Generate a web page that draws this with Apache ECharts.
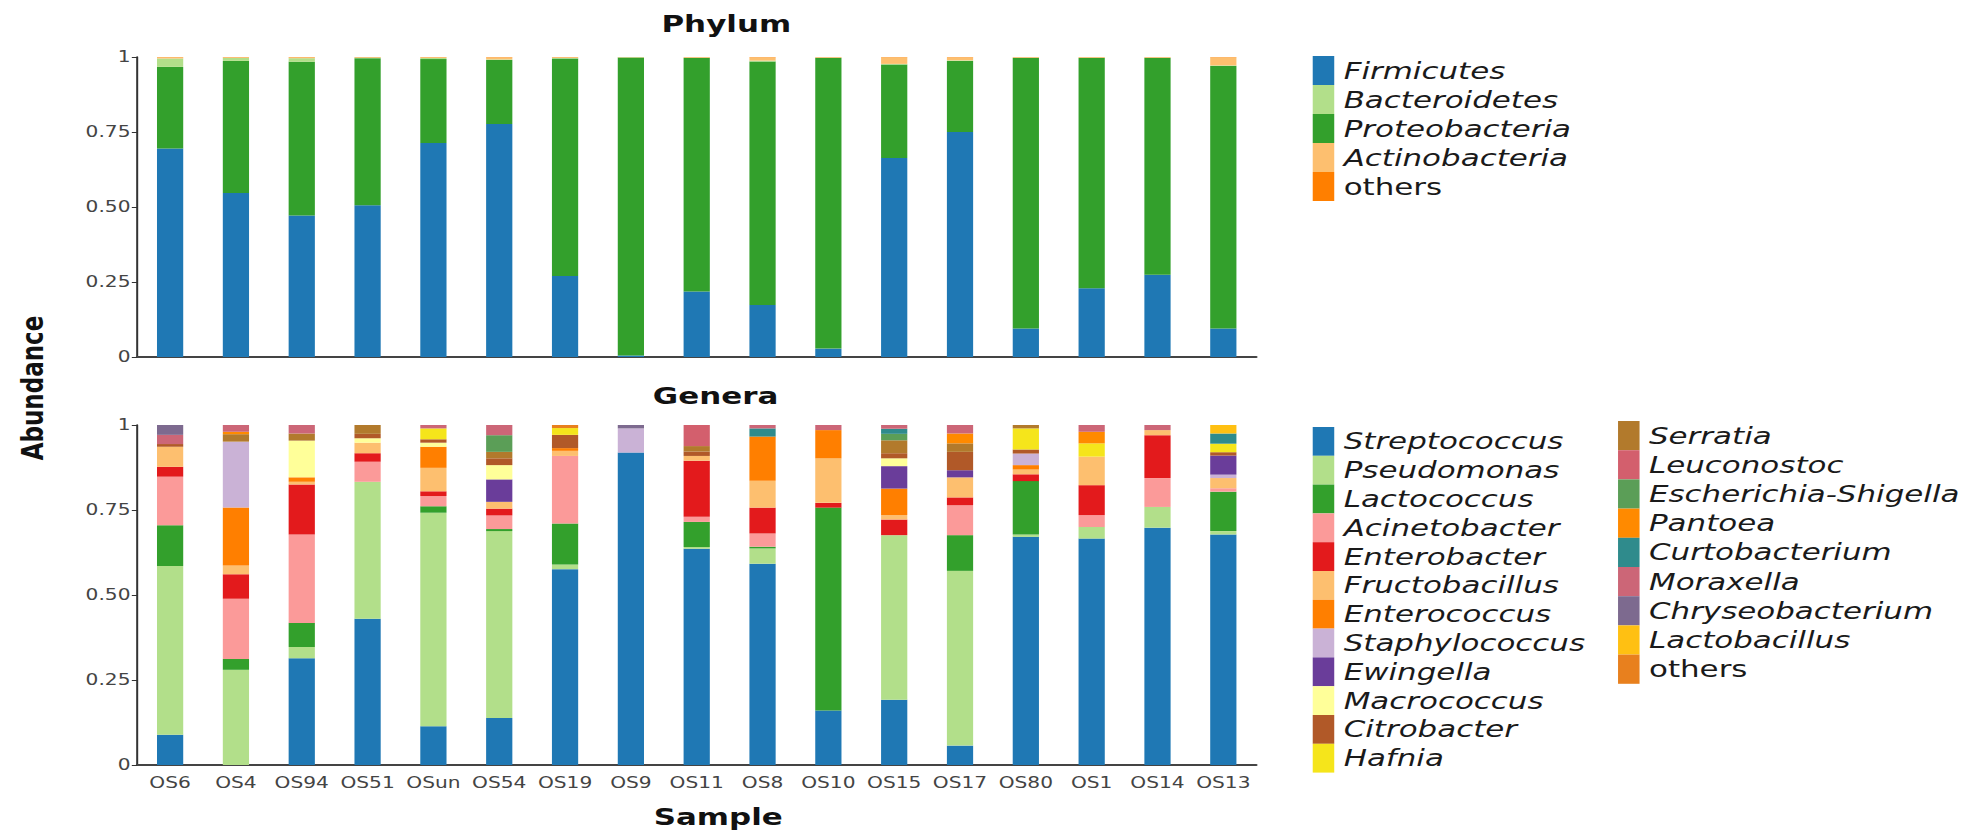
<!DOCTYPE html>
<html>
<head>
<meta charset="utf-8">
<script src="https://cdn.jsdelivr.net/npm/echarts@6/dist/echarts.min.js"></script>
<style>
html,body{margin:0;padding:0;background:#fff;overflow:hidden;}
#wrap{width:1988px;height:833px;overflow:hidden;position:relative;}
/* the reference figure is horizontally stretched; reproduce with a uniform x-scale of the whole chart */
#c{width:1478px;height:833px;transform:scaleX(1.345);transform-origin:0 0;}
</style>
</head>
<body>
<div id="wrap"><div id="c"></div></div>
<script>
// ---------- data ----------
var samples = ['OS6','OS4','OS94','OS51','OSun','OS54','OS19','OS9','OS11','OS8','OS10','OS15','OS17','OS80','OS1','OS14','OS13'];
var yTicks = ['0','0.25','0.50','0.75','1'];

// Phylum (stack order bottom->top: Firmicutes, Proteobacteria, Bacteroidetes, Actinobacteria, others)
var Firmicutes     = [0.695,0.547,0.472,0.506,0.713,0.777,0.270,0.005,0.218,0.173,0.028,0.663,0.750,0.095,0.229,0.274,0.095];
var Proteobacteria = [0.272,0.440,0.512,0.490,0.280,0.213,0.725,0.993,0.779,0.812,0.969,0.312,0.237,0.902,0.768,0.723,0.875];
var Bacteroidetes  = [0.028,0.010,0.012,0.002,0.004,0.002,0.002,0.001,0.001,0.003,0.001,0.002,0.002,0.001,0.001,0.001,0.002];
var Actinobacteria = [0.004,0.002,0.003,0.001,0.002,0.007,0.002,0.001,0.001,0.011,0.001,0.022,0.010,0.001,0.001,0.001,0.027];
var phylumOthers   = [0.001,0.001,0.001,0.001,0.001,0.001,0.001,0.000,0.001,0.001,0.001,0.001,0.001,0.001,0.001,0.001,0.001];

// Genera (stack order = legend order)
var Streptococcus   = [0.089,0,0.314,0.43,0.114,0.138,0.576,0.919,0.636,0.592,0.16,0.192,0.057,0.671,0.666,0.698,0.678];
var Pseudomonas     = [0.496,0.28,0.033,0.403,0.628,0.55,0.014,0,0.005,0.045,0,0.484,0.514,0.007,0.034,0.061,0.01];
var Lactococcus     = [0.12,0.032,0.071,0,0.019,0.006,0.12,0,0.074,0.005,0.597,0,0.105,0.157,0,0,0.116];
var Acinetobacter   = [0.143,0.177,0.26,0.059,0.03,0.04,0.199,0,0.015,0.039,0,0,0.088,0,0.035,0.085,0.01];
var Enterobacter    = [0.029,0.072,0.147,0.025,0.014,0.02,0,0,0.165,0.076,0.014,0.046,0.023,0.02,0.088,0.126,0];
var Fructobacillus  = [0.059,0.026,0.008,0.031,0.069,0.02,0.015,0,0.014,0.079,0.131,0.013,0.059,0.014,0.084,0.015,0.03];
var Enterococcus    = [0,0.17,0.013,0,0.062,0,0.008,0,0,0.13,0.083,0.078,0,0.013,0,0,0];
var Staphylococcus  = [0,0.194,0,0,0,0,0,0.071,0,0,0,0,0,0.034,0,0,0.01];
var Ewingella       = [0,0,0,0,0,0.066,0,0,0,0,0,0.066,0.021,0,0,0,0.056];
var Macrococcus     = [0,0,0.108,0.013,0.012,0.042,0,0,0,0,0,0.023,0,0,0,0,0];
var Citrobacter     = [0.008,0,0,0.013,0.01,0.02,0.039,0,0.013,0,0,0.015,0.054,0.012,0,0,0.01];
var Hafnia          = [0,0,0,0,0.032,0,0.02,0,0,0,0,0,0,0.062,0.039,0,0.025];
var Serratia        = [0,0.022,0.021,0.026,0,0.019,0,0,0.016,0,0,0.038,0.025,0.01,0,0,0];
var Leuconostoc     = [0,0,0,0,0,0,0,0,0.062,0,0,0,0,0,0,0,0];
var EscherichiaShigella = [0,0,0,0,0,0.049,0,0,0,0,0,0.019,0,0,0,0,0];
var Pantoea         = [0,0.007,0,0,0,0,0,0,0,0,0,0,0.029,0,0.034,0,0];
var Curtobacterium  = [0,0,0,0,0,0,0,0,0,0.024,0,0.015,0,0,0,0,0.03];
var Moraxella       = [0.027,0.02,0.025,0,0.01,0.03,0,0,0,0.01,0.015,0.011,0.025,0,0.02,0.015,0];
var Chryseobacterium= [0.029,0,0,0,0,0,0,0.01,0,0,0,0,0,0,0,0,0];
var Lactobacillus   = [0,0,0,0,0,0,0,0,0,0,0,0,0,0,0,0,0.025];
var genusOthers     = [0,0,0,0,0,0,0.009,0,0,0,0,0,0,0,0,0,0];

var phylumLegend = ['Firmicutes','Bacteroidetes','Proteobacteria','Actinobacteria','others'];
var generaCol1 = ['Streptococcus','Pseudomonas','Lactococcus','Acinetobacter','Enterobacter','Fructobacillus','Enterococcus','Staphylococcus','Ewingella','Macrococcus','Citrobacter','Hafnia'];
var generaCol2 = ['Serratia','Leuconostoc','Escherichia-Shigella','Pantoea','Curtobacterium','Moraxella','Chryseobacterium','Lactobacillus','others'];

// ---------- styling ----------
var phylumSeries = [
  {name:'Firmicutes', data:Firmicutes, color:'#1f78b4'},
  {name:'Proteobacteria', data:Proteobacteria, color:'#33a02c'},
  {name:'Bacteroidetes', data:Bacteroidetes, color:'#b2df8a'},
  {name:'Actinobacteria', data:Actinobacteria, color:'#fdbf6f'},
  {name:'others_p', data:phylumOthers, color:'#ff7f00'}
];
var genusSeries = [
  {name:'Streptococcus', data:Streptococcus, color:'#1f78b4'},
  {name:'Pseudomonas', data:Pseudomonas, color:'#b2df8a'},
  {name:'Lactococcus', data:Lactococcus, color:'#33a02c'},
  {name:'Acinetobacter', data:Acinetobacter, color:'#fb9a99'},
  {name:'Enterobacter', data:Enterobacter, color:'#e31a1c'},
  {name:'Fructobacillus', data:Fructobacillus, color:'#fdbf6f'},
  {name:'Enterococcus', data:Enterococcus, color:'#ff7f00'},
  {name:'Staphylococcus', data:Staphylococcus, color:'#cab2d6'},
  {name:'Ewingella', data:Ewingella, color:'#6a3d9a'},
  {name:'Macrococcus', data:Macrococcus, color:'#ffff99'},
  {name:'Citrobacter', data:Citrobacter, color:'#b15928'},
  {name:'Hafnia', data:Hafnia, color:'#f5e51b'},
  {name:'Serratia', data:Serratia, color:'#b27a2c'},
  {name:'Leuconostoc', data:Leuconostoc, color:'#d35f6d'},
  {name:'Escherichia-Shigella', data:EscherichiaShigella, color:'#5b9e57'},
  {name:'Pantoea', data:Pantoea, color:'#ff8a00'},
  {name:'Curtobacterium', data:Curtobacterium, color:'#2f8b8c'},
  {name:'Moraxella', data:Moraxella, color:'#cc6677'},
  {name:'Chryseobacterium', data:Chryseobacterium, color:'#7d6a8f'},
  {name:'Lactobacillus', data:Lactobacillus, color:'#ffc012'},
  {name:'others_g', data:genusOthers, color:'#e8801e'}
];

var FONT = '"DejaVu Sans", Verdana, sans-serif';
var series = [];
phylumSeries.forEach(function(s){
  series.push({type:'bar', name:s.name, data:s.data, stack:'p', xAxisIndex:0, yAxisIndex:0,
    barWidth:19.5, itemStyle:{color:s.color}, emphasis:{disabled:true}});
});
genusSeries.forEach(function(s){
  series.push({type:'bar', name:s.name, data:s.data, stack:'g', xAxisIndex:1, yAxisIndex:1,
    barWidth:19.5, itemStyle:{color:s.color}, emphasis:{disabled:true}});
});

function yAxisCfg(gi){
  return {type:'value', gridIndex:gi, min:0, max:1, interval:0.25,
    axisLine:{show:true, lineStyle:{color:'#333', width:1.5}},
    axisTick:{show:true, length:4, lineStyle:{color:'#333'}},
    splitLine:{show:false},
    axisLabel:{fontFamily:FONT, fontSize:15, color:'#444', margin:5,
      formatter:function(v){ return yTicks[Math.round(v*4)]; }}};
}
function xAxisCfg(gi, showLabel){
  return {type:'category', gridIndex:gi, data:samples,
    axisLine:{show:true, lineStyle:{color:'#444', width:2}},
    axisTick:{show:false},
    axisLabel:{show:showLabel, fontFamily:FONT, fontSize:15, color:'#444', margin:10, interval:0}};
}
function legendName(n){
  if (n === 'others_p' || n === 'others_g') return '{n|others}';
  return '{i|' + n + '}';
}
var legendText = {fontFamily:FONT, fontSize:23, color:'#1a1a1a',
  rich:{i:{fontFamily:FONT, fontSize:23, fontStyle:'italic', color:'#1a1a1a', padding:[0,0,0,2]},
        n:{fontFamily:FONT, fontSize:23, color:'#1a1a1a', padding:[0,0,0,2]}}};
function legendCfg(data, left, top, ih){
  return {data:data, orient:'vertical', left:left, top:top, itemWidth:16, itemHeight:ih, itemGap:0,
    icon:'rect', selectedMode:false, padding:0, formatter:legendName, textStyle:legendText};
}

var option = {
  animation:false,
  backgroundColor:'#fff',
  grid:[
    {left:102, top:57, width:832, height:300},
    {left:102, top:425, width:832, height:340}
  ],
  xAxis:[xAxisCfg(0,false), xAxisCfg(1,true)],
  yAxis:[yAxisCfg(0), yAxisCfg(1)],
  legend:[
    legendCfg(['Firmicutes','Bacteroidetes','Proteobacteria','Actinobacteria','others_p'], 976, 56, 29),
    legendCfg(generaCol1, 976, 427, 28.8),
    legendCfg(generaCol2.map(function(n){return n==='others'?'others_g':n;}), 1203, 421, 29.2)
  ],
  graphic:[
    {type:'text', x:540, y:24, style:{text:'Phylum', font:'bold 23px '+FONT, fill:'#111', align:'center', verticalAlign:'middle'}},
    {type:'text', x:532, y:396, style:{text:'Genera', font:'bold 23px '+FONT, fill:'#111', align:'center', verticalAlign:'middle'}},
    {type:'text', x:534, y:817, style:{text:'Sample', font:'bold 23px '+FONT, fill:'#111', align:'center', verticalAlign:'middle'}},
    {type:'text', x:24, y:388, rotation:Math.PI/2, style:{text:'Abundance', font:'bold 23px '+FONT, fill:'#111', align:'center', verticalAlign:'middle'}}
  ],
  series:series
};
var chart = echarts.init(document.getElementById('c'), null, {renderer:'svg'});
chart.setOption(option);
</script>
</body>
</html>
